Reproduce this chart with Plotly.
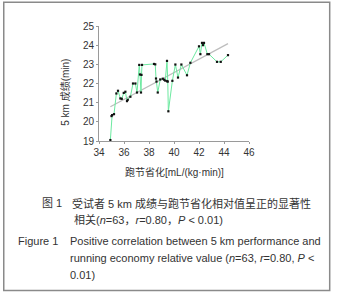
import plotly.graph_objects as go

# Running economy relative value [mL/(kg·min)]
re_x = [34.91, 35.0, 35.05, 35.2, 35.39, 35.52, 35.71, 35.82, 35.98, 36.11, 36.24, 36.3,
        36.51, 36.72, 36.91, 37.04, 37.22, 37.28, 37.36, 37.4, 37.44, 38.4, 38.5, 38.56,
        38.6, 38.7, 38.9, 39.1, 39.2, 39.3, 39.44, 39.45, 39.5, 39.55, 39.87, 40.11,
        40.32, 40.59, 41.04, 41.31, 42.0, 42.11, 42.24, 42.32, 42.4, 42.67, 42.8, 43.44,
        43.74, 44.32]
# 5 km performance (min)
perf_y = [19.05, 20.3, 20.35, 20.4, 21.48, 21.62, 21.22, 21.2, 21.51, 21.57, 21.08, 21.15,
          21.31, 22.0, 22.0, 21.53, 22.97, 22.47, 21.53, 22.45, 22.97, 23.02, 23.0, 22.26,
          22.1, 21.53, 22.21, 22.25, 22.2, 22.15, 23.18, 22.12, 22.1, 20.55, 22.14, 22.99,
          22.31, 22.99, 22.43, 23.08, 23.94, 23.53, 24.12, 24.0, 24.12, 23.53, 23.53, 23.13,
          23.13, 23.48]
# Linear trend endpoints
trend_x = [34.91, 44.32]
trend_y = [20.79, 24.08]

x_ticks = [34, 36, 38, 40, 42, 44, 46]
y_ticks = [19, 20, 21, 22, 23, 24, 25]

FONT = "Liberation Sans, Arial, Noto Sans CJK SC, sans-serif"
TXT = "#333333"

fig = go.Figure()
fig.add_trace(go.Scatter(x=trend_x, y=trend_y, mode="lines",
                         line=dict(color="#bdbdbd", width=1.2), hoverinfo="skip"))
fig.add_trace(go.Scatter(x=re_x, y=perf_y, mode="lines+markers",
                         line=dict(color="#6ce9a0", width=1),
                         marker=dict(symbol="square", size=2.2, color="#111111")))

axis_common = dict(showgrid=False, zeroline=False, showline=True, linecolor="#9a9a9a",
                   linewidth=1, ticks="outside", ticklen=2, tickcolor="#9a9a9a",
                   tickfont=dict(family=FONT, size=10, color=TXT))
fig.update_xaxes(range=[34, 46], tickvals=x_ticks, **axis_common)
fig.update_yaxes(range=[19, 25], tickvals=y_ticks, **axis_common)

def ann(text, x, y, size=11, xanchor="left", angle=0):
    fig.add_annotation(text=text, x=x, y=y, xref="paper", yref="paper", showarrow=False,
                       xanchor=xanchor, yanchor="middle", textangle=angle,
                       font=dict(family=FONT, size=size, color=TXT))

ann("跑节省化[mL/(kg·min)]", 0.5, -0.269, size=10, xanchor="center")
ann("5 km 成绩(min)", -0.229, 0.425, size=10, xanchor="center", angle=-90)

ann("图 1", -0.395, -0.540)
ann("受试者 5 km 成绩与跑节省化相对值呈正的显著性", -0.191, -0.540)
ann("相关(<i>n</i>=63，<i>r</i>=0.80，<i>P</i> &lt; 0.01)", -0.177, -0.679)
ann("Figure 1", -0.555, -0.873)
ann("Positive correlation between 5 km performance and", -0.209, -0.873)
ann("running economy relative value (<i>n</i>=63, <i>r</i>=0.80, <i>P</i> &lt;", -0.209, -1.017)
ann("0.01)", -0.209, -1.162)

fig.add_shape(type="rect", xref="paper", yref="paper", x0=-0.635, x1=1.538,
              y0=-1.301, y1=1.206, line=dict(color="#8a8a8a", width=1.5))

fig.update_layout(width=340, height=300, margin=dict(l=99, r=91, t=26, b=159),
                  paper_bgcolor="white", plot_bgcolor="white", showlegend=False)

fig.write_html("out.html", config={"displayModeBar": False},
               post_script="document.body.style.margin='0';document.body.style.overflow='hidden';")
